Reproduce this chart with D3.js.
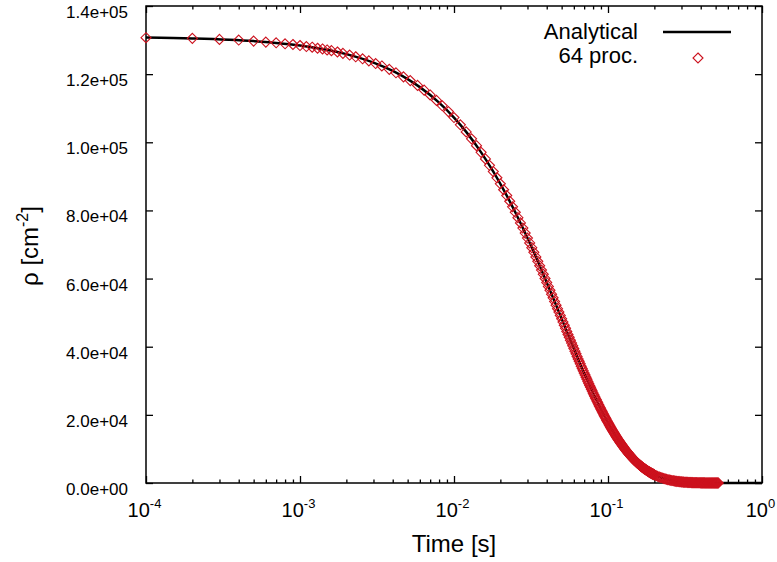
<!DOCTYPE html>
<html>
<head>
<meta charset="utf-8">
<script src="https://cdn.jsdelivr.net/npm/d3@7"></script>
<style>
body { margin: 0; background: #fff; }
text { font-family: "Liberation Sans", Arial, sans-serif; fill: #000; }
text.ylab { font-size: 17px; }
</style>
</head>
<body>
<svg id="chart" width="777" height="562"></svg>
<script>
// time [s] / density [cm^-2]
var analyticT = [0.0001, 0.0002, 0.0005, 0.001, 0.002, 0.003, 0.004, 0.005, 0.006, 0.008,
  0.010, 0.012, 0.015, 0.018, 0.020, 0.025, 0.030, 0.035, 0.040, 0.045, 0.050, 0.055, 0.060,
  0.065, 0.070, 0.080, 0.090, 0.100, 0.110, 0.120, 0.135, 0.150, 0.175, 0.200, 0.250, 0.300,
  0.400, 0.500, 0.700, 1.0];
var analyticRho = [130738, 130477, 129697, 128406, 125863, 123371, 120928, 118534, 116187, 111631,
  107254, 103049, 97047, 91396, 87812, 79456, 71894, 65053, 58862, 53261, 48192, 43606, 39456,
  35702, 32304, 26449, 21654, 17729, 14515, 11884, 8804, 6522, 3956, 2399, 883, 325,
  44, 6, 0, 0];

var markerT = [0.0001, 0.0002, 0.0003, 0.0004, 0.0005, 0.0006, 0.0007, 0.0008, 0.0009, 0.0010,
  0.0011, 0.0012, 0.0013, 0.0014, 0.0015, 0.0016, 0.00175, 0.0019, 0.0021, 0.0023, 0.00255, 0.0028,
  0.0031, 0.0034, 0.0038, 0.0042, 0.0047, 0.0052, 0.0058, 0.0064, 0.0070, 0.0077, 0.0084, 0.0092,
  0.010, 0.011, 0.012, 0.013, 0.014, 0.015, 0.016, 0.017, 0.018, 0.019,
  0.020, 0.021, 0.022, 0.023, 0.024, 0.025, 0.026, 0.027, 0.028, 0.029,
  0.030, 0.031, 0.032, 0.033, 0.034, 0.035, 0.036, 0.037, 0.038, 0.039,
  0.040, 0.041, 0.042, 0.043, 0.044, 0.045, 0.046, 0.047, 0.048, 0.049,
  0.050, 0.051, 0.052, 0.053, 0.054, 0.055, 0.056, 0.057, 0.058, 0.059,
  0.060, 0.061, 0.062, 0.063, 0.064, 0.065, 0.066, 0.067, 0.068, 0.069,
  0.070, 0.071, 0.072, 0.073, 0.074, 0.075, 0.076, 0.077, 0.078, 0.079,
  0.080, 0.081, 0.082, 0.083, 0.084, 0.085, 0.086, 0.087, 0.088, 0.089,
  0.090, 0.091, 0.092, 0.093, 0.094, 0.095, 0.096, 0.097, 0.098, 0.099,
  0.100, 0.101, 0.102, 0.103, 0.104, 0.105, 0.106, 0.107, 0.108, 0.109,
  0.110, 0.111, 0.112, 0.113, 0.114, 0.115, 0.116, 0.117, 0.118, 0.119,
  0.120, 0.121, 0.122, 0.123, 0.124, 0.125, 0.126, 0.127, 0.128, 0.129,
  0.130, 0.131, 0.132, 0.133, 0.134, 0.135, 0.136, 0.137, 0.138, 0.139,
  0.140, 0.141, 0.142, 0.143, 0.144, 0.145, 0.146, 0.147, 0.148, 0.149,
  0.150, 0.151, 0.152, 0.153, 0.154, 0.155, 0.156, 0.157, 0.158, 0.159,
  0.160, 0.161, 0.162, 0.163, 0.164, 0.165, 0.166, 0.167, 0.168, 0.169,
  0.170, 0.171, 0.172, 0.173, 0.174, 0.175, 0.176, 0.177, 0.178, 0.179,
  0.180, 0.181, 0.182, 0.183, 0.184, 0.185, 0.186, 0.187, 0.188, 0.189,
  0.190, 0.191, 0.192, 0.193, 0.194, 0.195, 0.196, 0.197, 0.198, 0.199,
  0.200, 0.205, 0.210, 0.215, 0.220, 0.225, 0.230, 0.235, 0.240, 0.245,
  0.250, 0.255, 0.260, 0.265, 0.270, 0.275, 0.280, 0.285, 0.290, 0.295,
  0.300, 0.305, 0.310, 0.315, 0.320, 0.325, 0.330, 0.335, 0.340, 0.345,
  0.350, 0.355, 0.360, 0.365, 0.370, 0.375, 0.380, 0.385, 0.390, 0.395,
  0.400, 0.405, 0.410, 0.415, 0.420, 0.425, 0.430, 0.435, 0.440, 0.445,
  0.450, 0.455, 0.460, 0.465, 0.470, 0.475, 0.480, 0.485, 0.490, 0.495,
  0.500, 0.505, 0.510, 0.515, 0.520];
var markerRho = [130700, 130500, 130200, 130000, 129700, 129400, 129200, 128900, 128700, 128400,
  128100, 127900, 127600, 127400, 127100, 126900, 126500, 126100, 125600, 125100, 124500, 123900,
  123100, 122400, 121400, 120400, 119200, 118100, 116700, 115300, 113900, 112300, 110700, 109000,
  107254, 105130, 103049, 101008, 99008, 97047, 95125, 93242, 91396, 89586,
  87812, 86073, 84369, 82698, 81061, 79456, 77883, 76341, 74829, 73347,
  71894, 70470, 69075, 67707, 66366, 65053, 63765, 62502, 61265, 60052,
  58862, 57697, 56554, 55434, 54337, 53261, 52206, 51173, 50159, 49166,
  48192, 47238, 46302, 45386, 44487, 43606, 42743, 41896, 41067, 40253,
  39456, 38675, 37909, 37158, 36423, 35702, 34995, 34302, 33623, 32957,
  32304, 31664, 31037, 30423, 29820, 29230, 28651, 28084, 27528, 26983,
  26449, 25925, 25412, 24909, 24416, 23932, 23458, 22994, 22538, 22092,
  21654, 21225, 20805, 20393, 19989, 19594, 19206, 18826, 18453, 18088,
  17729, 17378, 17034, 16697, 16366, 16042, 15724, 15413, 15108, 14809,
  14515, 14228, 13946, 13670, 13399, 13134, 12874, 12619, 12369, 12124,
  11884, 11649, 11418, 11192, 10970, 10753, 10540, 10331, 10127, 9926,
  9730, 9537, 9348, 9163, 8982, 8804, 8630, 8459, 8291, 8127,
  7966, 7808, 7654, 7502, 7354, 7208, 7065, 6925, 6788, 6654,
  6522, 6393, 6266, 6142, 6021, 5901, 5784, 5670, 5557, 5447,
  5340, 5234, 5131, 5029, 4929, 4832, 4736, 4643, 4551, 4461,
  4372, 4285, 4201, 4117, 4036, 3956, 3878, 3801, 3726, 3652,
  3579, 3508, 3439, 3371, 3304, 3239, 3175, 3112, 3050, 2990,
  2931, 2873, 2816, 2760, 2706, 2652, 2600, 2548, 2498, 2448,
  2399, 2171, 1964, 1778, 1608, 1455, 1317, 1191, 1078, 976,
  883, 799, 723, 654, 592, 535, 484, 438, 397, 359,
  325, 294, 266, 240, 218, 197, 178, 161, 146, 132,
  119, 108, 98, 89, 80, 72, 66, 59, 54, 49,
  44, 40, 36, 33, 29, 27, 24, 22, 20, 18,
  16, 15, 13, 12, 11, 10, 9, 8, 7, 7,
  6, 5, 5, 4, 4];

var xMajor = [1e-4, 1e-3, 1e-2, 1e-1, 1];
var xExp = ["-4", "-3", "-2", "-1", "0"];
var yTicks = [0, 20000, 40000, 60000, 80000, 100000, 120000, 140000];
var yLabels = ["0.0e+00", "2.0e+04", "4.0e+04", "6.0e+04", "8.0e+04", "1.0e+05", "1.2e+05", "1.4e+05"];
var seriesNames = ["Analytical", "64 proc."];

var red = "#cc121e";
var svg = d3.select("#chart");
var L = 146, R = 762, T = 6, B = 483;

var x = d3.scaleLog().domain([1e-4, 1]).range([L, R]);
var y = d3.scaleLinear().domain([0, 140000]).range([B, T]);

var xMinor = x.ticks().filter(function(v){ return xMajor.indexOf(v) < 0; });

function styleAxis(g){
  g.select(".domain").remove();
  g.selectAll(".tick line").attr("stroke", "#000").attr("stroke-width", 1.3);
}

// bottom / top ticks (pointing inwards)
svg.append("g").attr("transform", "translate(0," + B + ")")
  .call(d3.axisBottom(x).tickValues(xMajor).tickSize(-7).tickFormat("")).call(styleAxis);
svg.append("g").attr("transform", "translate(0," + B + ")")
  .call(d3.axisBottom(x).tickValues(xMinor).tickSize(-3.5).tickFormat("")).call(styleAxis);
svg.append("g").attr("transform", "translate(0," + T + ")")
  .call(d3.axisTop(x).tickValues(xMajor).tickSize(-7).tickFormat("")).call(styleAxis);
svg.append("g").attr("transform", "translate(0," + T + ")")
  .call(d3.axisTop(x).tickValues(xMinor).tickSize(-3.5).tickFormat("")).call(styleAxis);

// left / right ticks
svg.append("g").attr("transform", "translate(" + L + ",0)")
  .call(d3.axisLeft(y).tickValues(yTicks).tickSize(-7).tickFormat("")).call(styleAxis);
svg.append("g").attr("transform", "translate(" + R + ",0)")
  .call(d3.axisRight(y).tickValues(yTicks).tickSize(-7).tickFormat("")).call(styleAxis);

// y labels
svg.append("g").selectAll("text").data(yTicks).enter().append("text")
  .attr("class", "ylab")
  .attr("x", L - 18)
  .attr("y", function(d){ return y(d) + 12; })
  .attr("text-anchor", "end")
  .text(function(d, i){ return yLabels[i]; });

// x labels 10^n
var xl = svg.append("g").selectAll("text").data(xMajor).enter().append("text")
  .attr("x", function(d){ return x(d) - 1.5; })
  .attr("y", 517)
  .attr("text-anchor", "middle")
  .attr("font-size", 20);
xl.append("tspan").text("10");
xl.append("tspan").attr("font-size", 13).attr("dy", -9).text(function(d, i){ return xExp[i]; });

// frame
svg.append("rect").attr("x", L).attr("y", T).attr("width", R - L).attr("height", B - T)
  .attr("fill", "none").attr("stroke", "#000").attr("stroke-width", 1.5);

// axis titles
svg.append("text").attr("x", 454).attr("y", 552).attr("text-anchor", "middle")
  .attr("font-size", 24).text("Time [s]");
var yt = svg.append("text").attr("transform", "translate(38,246) rotate(-90)")
  .attr("text-anchor", "middle").attr("font-size", 24);
yt.append("tspan").text("\u03c1 [cm");
yt.append("tspan").attr("font-size", 16).attr("dy", -10).text("-2");
yt.append("tspan").attr("dy", 10).text("]");

// analytical curve
var analytic = analyticT.map(function(t, i){ return [t, analyticRho[i]]; });
var line = d3.line().x(function(d){ return x(d[0]); }).y(function(d){ return y(d[1]); })
  .curve(d3.curveMonotoneX);
svg.append("path").datum(analytic).attr("d", line)
  .attr("fill", "none").attr("stroke", "#000").attr("stroke-width", 2.5);

// simulation points
var pts = markerT.map(function(t, i){ return [t, markerRho[i]]; });
var diamond = d3.symbol().type(d3.symbolDiamond2).size(64);
svg.append("g").selectAll("path").data(pts).enter().append("path")
  .attr("d", diamond)
  .attr("transform", function(d){ return "translate(" + x(d[0]) + "," + y(d[1]) + ")"; })
  .attr("fill", "none").attr("stroke", red).attr("stroke-width", 1.1);

// legend
var lg = svg.append("g");
lg.selectAll("text").data(seriesNames).enter().append("text")
  .attr("x", 638).attr("y", function(d, i){ return 39 + i * 24; })
  .attr("text-anchor", "end").attr("font-size", 22).text(function(d){ return d; });
lg.append("line").attr("x1", 663).attr("x2", 731).attr("y1", 32).attr("y2", 32)
  .attr("stroke", "#000").attr("stroke-width", 2.7);
lg.append("path").attr("d", diamond).attr("transform", "translate(698,58)")
  .attr("fill", "none").attr("stroke", red).attr("stroke-width", 1.1);
</script>
</body>
</html>
